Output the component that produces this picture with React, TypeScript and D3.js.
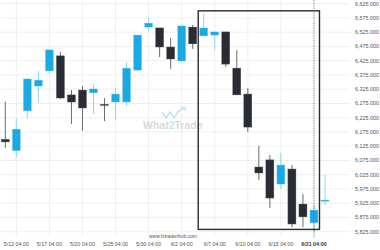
import React from "react";
import * as d3 from "d3";

// candles: open, high, low, close (daily)
const opens = [6149, 6109, 6249, 6336, 6389, 6442, 6305, 6322, 6312, 6272, 6280, 6280, 6392, 6543, 6540, 6473, 6424, 6543, 6512, 6515, 6526, 6399, 6308, 6052, 6077, 5992, 6045, 5922, 5856, 5933];
const highs = [6281, 6224, 6364, 6389, 6463, 6456, 6322, 6336, 6340, 6294, 6329, 6420, 6515, 6575, 6540, 6505, 6547, 6550, 6592, 6526, 6526, 6462, 6329, 6126, 6094, 6101, 6059, 5957, 5919, 6024];
const lows = [6119, 6084, 6224, 6277, 6378, 6291, 6203, 6178, 6238, 6213, 6217, 6266, 6389, 6529, 6438, 6396, 6420, 6466, 6512, 6463, 6403, 6305, 6175, 6006, 5908, 5975, 5841, 5841, 5824, 5919];
const closes = [6140, 6185, 6361, 6357, 6463, 6294, 6280, 6259, 6326, 6268, 6308, 6399, 6515, 6557, 6473, 6431, 6547, 6484, 6540, 6526, 6413, 6305, 6192, 6031, 5943, 6059, 5852, 5877, 5901, 5936];

const tickIndex = [1, 4, 7, 10, 13, 16, 19, 22, 25];
const tickLabels = ["5/12 04:00", "5/17 04:00", "5/20 04:00", "5/25 04:00", "5/30 04:00", "6/2 04:00", "6/7 04:00", "6/10 04:00", "6/15 04:00"];
const cursorIndex = 28;
const cursorLabel = "6/21 04:00";

const priceTicks = [6625, 6575, 6525, 6475, 6425, 6375, 6325, 6275, 6225, 6175, 6125, 6075, 6025, 5975, 5925, 5875, 5825];

// rectangle pattern range
const boxIndex = [17.5, 28.5];
const boxPrice = [5833, 6600];

const W = 380;
const H = 250;
const BLUE = "#19a9e3";
const BLUE_WICK = "#8fd4f1";
const DARK = "#2a2c35";
const DARK_WICK = "#6b6b70";
const FONT = "'Liberation Sans', Arial, sans-serif";

export default function App() {
  const x = d3.scaleLinear().domain([0, 29]).range([5.3, 325]);
  const y = d3.scaleLinear().domain([5825, 6625]).range([231.7, 3.7]);
  const fmt = d3.format(",.3f");
  const bw = 8;

  return (
    <svg width={W} height={H} style={{ position: "absolute", left: 0, top: 0, background: "#fff" }}>
      {/* grid */}
      {priceTicks.map((p) => (
        <line key={"h" + p} x1={0} x2={350} y1={y(p)} y2={y(p)} stroke="#efefef" strokeWidth={1} />
      ))}
      {tickIndex.map((i) => (
        <line key={"v" + i} x1={x(i)} x2={x(i)} y1={0} y2={236} stroke="#efefef" strokeWidth={1} />
      ))}

      {/* watermark */}
      <g opacity={0.9}>
        <path
          d="M162,112 L166,118 L170,112 L174,118 L178,112 L184,108"
          fill="none"
          stroke="#bfe3f4"
          strokeWidth={1.8}
        />
        <path d="M181,107.5 L185,107.5 L185,111" fill="none" stroke="#bfe3f4" strokeWidth={1.5} />
        <text x={143} y={129} fontFamily={FONT} fontWeight="bold" fontSize={10.5} fill="#d6d6d6">
          What<tspan fill="#bfe3f4">2</tspan>Trade
        </text>
      </g>
      <text x={197} y={238} fontFamily={FONT} fontSize={5} fill="#555" textAnchor="end">
        www.fxtraderhub.com
      </text>

      {/* candles */}
      {opens.map((o, i) => {
        const c = closes[i];
        const up = c >= o;
        const top = y(Math.max(o, c));
        const bot = y(Math.min(o, c));
        const cx = x(i);
        return (
          <g key={i}>
            <line
              x1={cx}
              x2={cx}
              y1={y(highs[i])}
              y2={y(lows[i])}
              stroke={up ? BLUE_WICK : DARK_WICK}
              strokeWidth={1}
            />
            <rect
              x={cx - bw / 2}
              y={top}
              width={bw}
              height={Math.max(bot - top, 1.2)}
              fill={up ? BLUE : DARK}
              stroke={up ? "#7fcdee" : "#55565c"}
              strokeWidth={0.4}
            />
          </g>
        );
      })}

      {/* pattern box */}
      <rect
        x={x(boxIndex[0])}
        y={y(boxPrice[1])}
        width={x(boxIndex[1]) - x(boxIndex[0])}
        height={y(boxPrice[0]) - y(boxPrice[1])}
        fill="none"
        stroke="#2b2b2b"
        strokeWidth={1.4}
      />

      {/* cursor line */}
      <line
        x1={x(cursorIndex)}
        x2={x(cursorIndex)}
        y1={0}
        y2={238}
        stroke="#4f7d86"
        strokeWidth={0.8}
        strokeDasharray="1.5,1"
      />

      {/* y axis labels */}
      {priceTicks.map((p) => (
        <text key={"t" + p} x={355} y={y(p)} dy="0.35em" fontFamily={FONT} fontSize={5.4} fill="#555">
          {fmt(p)}
        </text>
      ))}

      {/* x axis labels */}
      {tickIndex.map((i, k) => (
        <text key={"x" + i} x={x(i)} y={245.5} textAnchor="middle" fontFamily={FONT} fontSize={5.3} fill="#555">
          {tickLabels[k]}
        </text>
      ))}
      <text x={x(cursorIndex)} y={245.5} textAnchor="middle" fontFamily={FONT} fontSize={5.3} fontWeight="bold" fill="#333">
        {cursorLabel}
      </text>
    </svg>
  );
}
